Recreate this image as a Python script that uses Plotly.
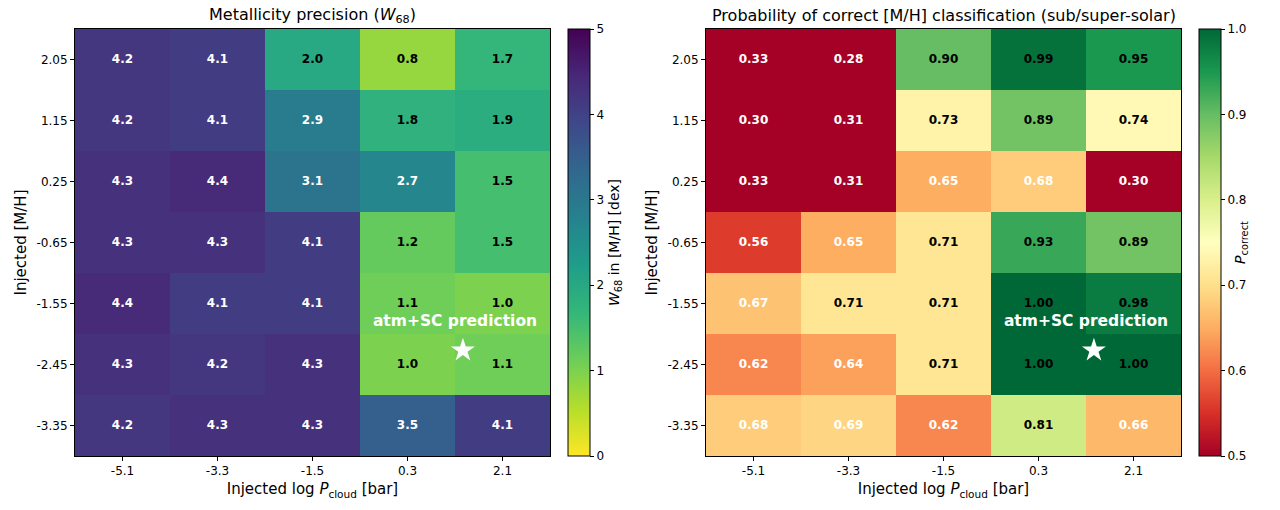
import plotly.graph_objects as go

# ---- data ----
log_p_cloud = [-5.1, -3.3, -1.5, 0.3, 2.1]
x_labels = ["-5.1", "-3.3", "-1.5", "0.3", "2.1"]
metallicity = [2.05, 1.15, 0.25, -0.65, -1.55, -2.45, -3.35]
y_labels = ["2.05", "1.15", "0.25", "-0.65", "-1.55", "-2.45", "-3.35"]

w68 = [
    [4.2, 4.1, 2.0, 0.8, 1.7],
    [4.2, 4.1, 2.9, 1.8, 1.9],
    [4.3, 4.4, 3.1, 2.7, 1.5],
    [4.3, 4.3, 4.1, 1.2, 1.5],
    [4.4, 4.1, 4.1, 1.1, 1.0],
    [4.3, 4.2, 4.3, 1.0, 1.1],
    [4.2, 4.3, 4.3, 3.5, 4.1],
]
p_correct = [
    [0.33, 0.28, 0.90, 0.99, 0.95],
    [0.30, 0.31, 0.73, 0.89, 0.74],
    [0.33, 0.31, 0.65, 0.68, 0.30],
    [0.56, 0.65, 0.71, 0.93, 0.89],
    [0.67, 0.71, 0.71, 1.00, 0.98],
    [0.62, 0.64, 0.71, 1.00, 1.00],
    [0.68, 0.69, 0.62, 0.81, 0.66],
]
pred_x = [1.35]
pred_y = [-2.24]
pred_label_x = 1.2
pred_label_y = -1.82

FONT = "DejaVu Sans"
W, H = 1280, 510

def px_x(p):
    return p / W

def px_y(p):
    return 1 - p / H

def colorbar(x0, tickvals, title, fmt=None):
    cb = dict(
        x=px_x(x0), xanchor="left", y=px_y(456), yanchor="bottom",
        len=427 / H, lenmode="fraction", thickness=22, thicknessmode="pixels",
        xpad=0, ypad=0,
        outlinewidth=1, outlinecolor="black",
        tickvals=tickvals, ticks="outside", ticklen=4, tickcolor="black",
        tickfont=dict(family=FONT, size=12, color="black"),
        title=dict(text=title, side="right",
                   font=dict(family=FONT, size=14, color="black")),
    )
    if fmt:
        cb["tickformat"] = fmt
    return cb

fig = go.Figure()

# left heatmap
fig.add_trace(go.Heatmap(
    x=log_p_cloud, y=metallicity, z=w68,
    colorscale="Viridis", reversescale=True, zmin=0, zmax=5,
    xaxis="x", yaxis="y", hoverinfo="skip",
    colorbar=colorbar(568, [0, 1, 2, 3, 4, 5],
                      "<i>W</i><sub>68</sub> in [M/H] [dex]"),
))

# right heatmap
fig.add_trace(go.Heatmap(
    x=log_p_cloud, y=metallicity, z=p_correct,
    colorscale="RdYlGn", zmin=0.5, zmax=1.0,
    xaxis="x2", yaxis="y2", hoverinfo="skip",
    colorbar=colorbar(1199, [0.5, 0.6, 0.7, 0.8, 0.9, 1.0],
                      "<i>P</i><sub>correct</sub>", ".1f"),
))

# cell labels
for z, ax, fmt, thr_fn in [
    (w68, ("x", "y"), "{:.1f}", lambda v: v > 2.5),
    (p_correct, ("x2", "y2"), "{:.2f}", lambda v: v < 0.7),
]:
    xs, ys, ts, cs = [], [], [], []
    for i, yv in enumerate(metallicity):
        for j, xv in enumerate(log_p_cloud):
            v = z[i][j]
            xs.append(xv)
            ys.append(yv)
            ts.append("<b>" + fmt.format(v) + "</b>")
            cs.append("white" if thr_fn(v) else "black")
    fig.add_trace(go.Scatter(
        x=xs, y=ys, text=ts, mode="text", xaxis=ax[0], yaxis=ax[1],
        textfont=dict(family=FONT, size=12, color=cs),
        hoverinfo="skip", showlegend=False,
    ))

# prediction stars and labels
for ax in [("x", "y"), ("x2", "y2")]:
    fig.add_trace(go.Scatter(
        x=pred_x, y=pred_y, mode="markers", xaxis=ax[0], yaxis=ax[1],
        marker=dict(symbol="star", size=18, color="white", line=dict(width=0)),
        hoverinfo="skip", showlegend=False,
    ))
    fig.add_trace(go.Scatter(
        x=[pred_label_x], y=[pred_label_y], mode="text", xaxis=ax[0], yaxis=ax[1],
        text=["<b>atm+SC prediction</b>"],
        textfont=dict(family=FONT, size=15.5, color="white"),
        hoverinfo="skip", showlegend=False,
    ))

xaxis_common = dict(
    range=[-6.0, 3.0], tickvals=log_p_cloud, ticktext=x_labels,
    ticks="outside", ticklen=4, tickcolor="black",
    showgrid=False, zeroline=False, showline=True, linecolor="black",
    linewidth=1, mirror=True,
    tickfont=dict(family=FONT, size=12, color="black"),
    title=dict(text="Injected log <i>P</i><sub>cloud</sub> [bar]",
               font=dict(family=FONT, size=15, color="black"), standoff=6),
)
yaxis_common = dict(
    range=[-3.8, 2.5], tickvals=metallicity, ticktext=y_labels,
    ticks="outside", ticklen=4, tickcolor="black",
    showgrid=False, zeroline=False, showline=True, linecolor="black",
    linewidth=1, mirror=True,
    tickfont=dict(family=FONT, size=12, color="black"),
    title=dict(text="Injected [M/H]",
               font=dict(family=FONT, size=15, color="black"), standoff=6),
)

fig.update_layout(
    width=W, height=H,
    margin=dict(l=0, r=0, t=0, b=0),
    paper_bgcolor="white", plot_bgcolor="white",
    showlegend=False,
    xaxis=dict(domain=[px_x(75), px_x(550)], anchor="y", **xaxis_common),
    yaxis=dict(domain=[px_y(456), px_y(29)], anchor="x", **yaxis_common),
    xaxis2=dict(domain=[px_x(706), px_x(1181)], anchor="y2", **xaxis_common),
    yaxis2=dict(domain=[px_y(456), px_y(29)], anchor="x2", **yaxis_common),
    annotations=[
        dict(text="Metallicity precision (<i>W</i><sub>68</sub>)",
             x=(75 + 550) / 2 / W, y=px_y(15), xref="paper", yref="paper",
             xanchor="center", yanchor="middle",
             showarrow=False, font=dict(family=FONT, size=16, color="black")),
        dict(text="Probability of correct [M/H] classification (sub/super-solar)",
             x=(706 + 1181) / 2 / W, y=px_y(15), xref="paper", yref="paper",
             xanchor="center", yanchor="middle",
             showarrow=False, font=dict(family=FONT, size=16, color="black")),
    ],
)

fig.write_html(
    "out.html",
    config={"displayModeBar": False},
    post_script="document.body.style.margin='0';document.body.style.padding='0';",
)
